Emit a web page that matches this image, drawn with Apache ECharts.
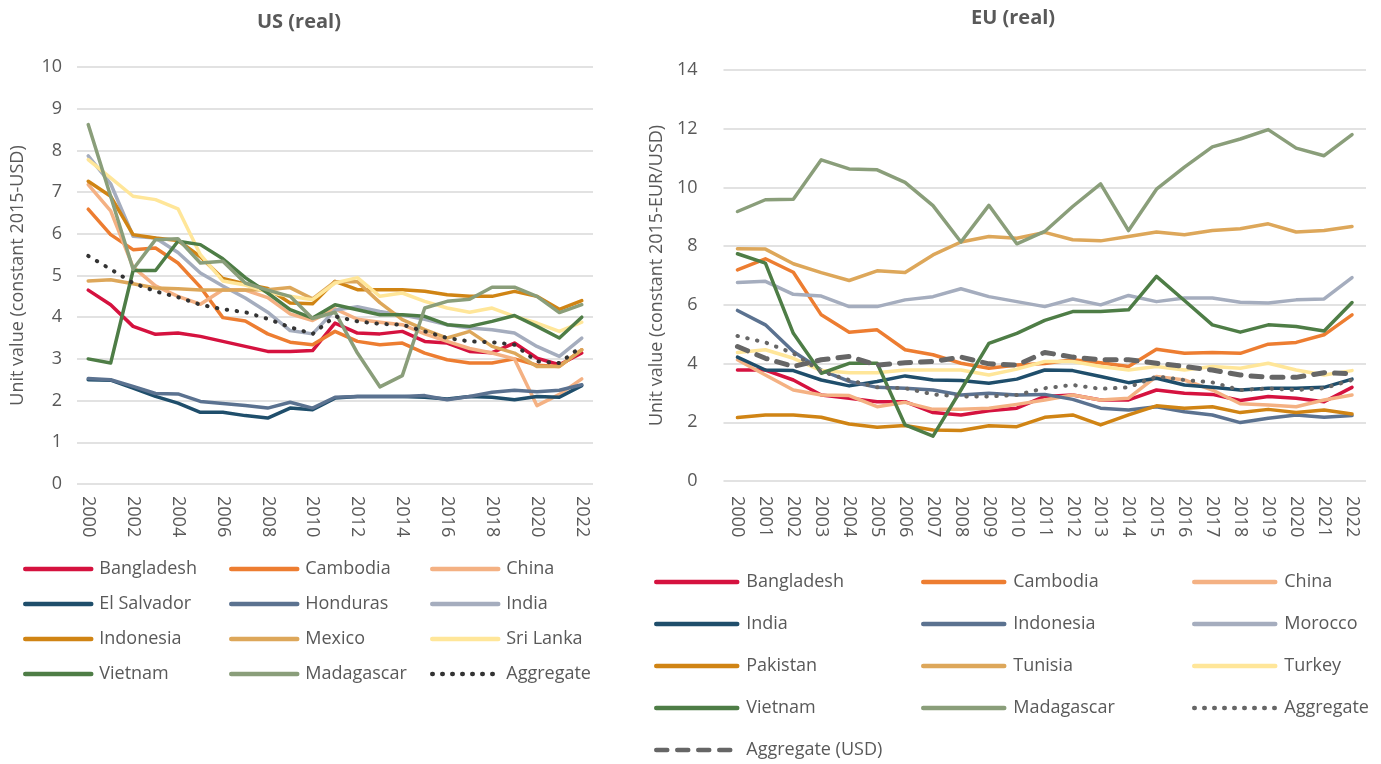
<!DOCTYPE html>
<html><head><meta charset="utf-8">
<script src="https://cdn.jsdelivr.net/npm/echarts@6/dist/echarts.min.js"></script>
<style>
html,body{margin:0;padding:0;background:#fff;}
#us{position:absolute;left:0;top:0;width:640px;height:764px;}
#eu{position:absolute;left:640px;top:0;width:741px;height:764px;}
</style></head><body>
<div id="us"></div><div id="eu"></div>
<script>
const years = ['2000','2001','2002','2003','2004','2005','2006','2007','2008','2009','2010','2011','2012','2013','2014','2015','2016','2017','2018','2019','2020','2021','2022'];
const usTicks = [0,1,2,3,4,5,6,7,8,9,10];
const euTicks = [0,2,4,6,8,10,12,14];

// US (real)
const usBangladesh = [4.65,4.3,3.78,3.59,3.62,3.54,3.42,3.3,3.18,3.18,3.2,3.86,3.62,3.6,3.66,3.42,3.38,3.18,3.15,3.38,3.02,2.86,3.14];
const usCambodia   = [6.59,5.98,5.62,5.66,5.3,4.72,3.99,3.91,3.6,3.4,3.34,3.66,3.42,3.34,3.38,3.14,2.98,2.9,2.9,3.0,2.85,2.82,3.22];
const usChina      = [7.18,6.55,5.2,4.75,4.5,4.31,4.66,4.65,4.47,4.08,3.92,4.2,3.95,3.88,3.82,3.6,3.42,3.25,3.14,3.0,1.88,2.15,2.52];
const usElSalvador = [2.5,2.49,2.3,2.1,1.94,1.72,1.72,1.64,1.58,1.82,1.78,2.06,2.1,2.1,2.1,2.08,2.04,2.1,2.08,2.02,2.1,2.08,2.36];
const usHonduras   = [2.53,2.5,2.34,2.17,2.16,1.98,1.93,1.88,1.82,1.96,1.82,2.08,2.1,2.1,2.1,2.12,2.02,2.1,2.2,2.25,2.21,2.25,2.38];
const usIndia      = [7.87,7.2,5.94,5.9,5.55,5.06,4.75,4.46,4.12,3.68,3.6,4.17,4.25,4.14,4.05,3.95,3.82,3.74,3.7,3.62,3.3,3.06,3.5];
const usIndonesia  = [7.26,6.9,5.98,5.9,5.84,5.45,4.93,4.8,4.69,4.34,4.32,4.86,4.66,4.66,4.66,4.62,4.54,4.5,4.5,4.62,4.5,4.19,4.4];
const usMexico     = [4.87,4.9,4.8,4.7,4.68,4.65,4.65,4.65,4.66,4.71,4.44,4.85,4.85,4.35,3.94,3.7,3.5,3.66,3.3,3.14,2.82,2.82,3.22];
const usSriLanka   = [7.78,7.34,6.9,6.82,6.6,5.5,4.87,4.77,4.6,4.5,4.42,4.82,4.95,4.5,4.58,4.38,4.22,4.12,4.22,4.02,3.86,3.66,3.88];
const usVietnam    = [3.0,2.9,5.12,5.12,5.82,5.74,5.4,4.95,4.58,4.18,3.98,4.3,4.18,4.06,4.06,4.02,3.82,3.78,3.9,4.04,3.78,3.5,4.0];
const usMadagascar = [8.62,6.9,5.15,5.86,5.88,5.3,5.34,4.82,4.65,4.5,3.97,4.12,3.14,2.33,2.6,4.22,4.38,4.43,4.72,4.72,4.5,4.11,4.3];
const usAggregate  = [5.47,5.15,4.82,4.62,4.48,4.3,4.19,4.12,3.96,3.76,3.6,4.02,3.9,3.84,3.82,3.66,3.5,3.42,3.4,3.34,2.94,2.9,3.3];

// EU (real)
const euBangladesh = [3.78,3.78,3.44,2.93,2.82,2.7,2.7,2.33,2.25,2.39,2.48,2.88,2.93,2.76,2.76,3.1,2.99,2.95,2.74,2.88,2.82,2.7,3.19];
const euCambodia   = [7.19,7.57,7.11,5.66,5.07,5.15,4.47,4.3,4.01,3.84,3.95,4.0,4.13,4.03,3.9,4.49,4.35,4.38,4.35,4.66,4.72,4.98,5.66];
const euChina      = [4.13,3.61,3.1,2.93,2.91,2.53,2.68,2.44,2.44,2.48,2.61,2.76,2.93,2.76,2.82,3.56,3.44,3.1,2.63,2.59,2.53,2.76,2.93];
const euIndia      = [4.22,3.78,3.76,3.44,3.24,3.39,3.58,3.44,3.42,3.33,3.47,3.78,3.76,3.56,3.35,3.5,3.27,3.19,3.1,3.16,3.16,3.19,3.47];
const euIndonesia  = [5.81,5.32,4.41,3.78,3.39,3.19,3.16,3.1,2.93,2.99,2.93,2.95,2.78,2.48,2.42,2.53,2.36,2.25,1.99,2.14,2.25,2.17,2.23];
const euMorocco    = [6.76,6.8,6.36,6.3,5.94,5.94,6.17,6.28,6.55,6.28,6.11,5.94,6.2,6.0,6.32,6.11,6.23,6.23,6.09,6.06,6.17,6.2,6.93];
const euPakistan   = [2.16,2.25,2.25,2.17,1.94,1.83,1.89,1.74,1.72,1.88,1.85,2.17,2.25,1.91,2.25,2.56,2.48,2.53,2.33,2.44,2.33,2.42,2.28];
const euTunisia    = [7.91,7.9,7.4,7.1,6.83,7.16,7.1,7.7,8.14,8.33,8.27,8.47,8.22,8.18,8.33,8.48,8.39,8.53,8.59,8.76,8.48,8.53,8.67];
const euTurkey     = [4.38,4.47,4.18,3.76,3.69,3.69,3.78,3.78,3.78,3.61,3.81,4.07,4.07,3.9,3.78,3.9,3.78,3.9,3.84,4.01,3.78,3.61,3.76];
const euVietnam    = [7.74,7.42,5.03,3.67,4.01,4.01,1.91,1.53,3.1,4.69,5.03,5.47,5.77,5.77,5.83,6.97,6.15,5.32,5.07,5.32,5.26,5.11,6.08];
const euMadagascar = [9.18,9.58,9.6,10.94,10.63,10.6,10.17,9.38,8.14,9.39,8.08,8.5,9.35,10.12,8.53,9.94,10.69,11.38,11.65,11.97,11.34,11.08,11.8];
const euAggregate  = [4.94,4.72,4.35,3.73,3.44,3.19,3.16,2.95,2.88,2.88,2.93,3.16,3.27,3.14,3.19,3.56,3.44,3.36,3.1,3.15,3.1,3.16,3.44];
const euAggregateUSD = [4.58,4.18,3.9,4.13,4.24,3.95,4.03,4.07,4.22,3.99,3.95,4.38,4.22,4.13,4.13,4.01,3.9,3.78,3.61,3.53,3.53,3.69,3.65];

const FONT = '"Open Sans", sans-serif';
const GREY = '#595959';
const C = {
  red:'#D5123F', orange:'#ED7D31', salmon:'#F4B183', navy:'#1F4E6B', slate:'#5B7290',
  lightblue:'#A5ADBE', dkorange:'#D08414', tan:'#DDA75A', yellow:'#FFE699',
  green:'#4E7D46', sage:'#8A9E7A'
};

function line(name, data, color, extra) {
  const ls = Object.assign({width:3.5, color:color, cap:'round', join:'round'}, extra||{});
  return {name, type:'line', data, symbol:'none', showSymbol:false, smooth:false,
    itemStyle:{color:color}, lineStyle:ls, emphasis:{disabled:true}, animation:false};
}

function legendCol(names, left, top, gap, iw, tpad) {
  return {show:true, orient:'vertical', left, top, padding:0, data:names, itemWidth:iw, itemHeight:20, itemGap:gap,
    itemStyle:{opacity:0},
    lineStyle:{width:4.5, cap:'round'},
    textStyle:{fontFamily:FONT, fontSize:18, color:GREY, lineHeight:20, padding:[0,0,0,tpad]},
    selectedMode:false};
}

function makeOpt(cfg) {
  return {
    animation:false,
    title:{text:cfg.title, left:cfg.titleLeft, top:cfg.titleTop, textStyle:{fontFamily:FONT, fontSize:20, fontWeight:'bold', color:GREY}},
    grid:cfg.grid,
    legend:cfg.legends,
    xAxis:{type:'category', data:years, boundaryGap:true,
      axisLine:{show:false}, axisTick:{show:false},
      axisLabel:{rotate:-90, interval:cfg.labelInterval, margin:cfg.xMargin, fontFamily:FONT, fontSize:18, color:GREY}},
    yAxis:{type:'value', min:0, max:cfg.yMax, interval:cfg.yInterval,
      name:cfg.yName, nameLocation:'middle', nameGap:cfg.nameGap, nameRotate:90,
      nameTextStyle:{fontFamily:FONT, fontSize:18, color:GREY},
      axisLine:{show:false}, axisTick:{show:false},
      axisLabel:{fontFamily:FONT, fontSize:18, color:GREY, margin:cfg.yMargin},
      splitLine:{lineStyle:{color:'#D9D9D9', width:1.5}}},
    series:cfg.series
  };
}

const usChart = echarts.init(document.getElementById('us'), null, {renderer:'canvas'});
usChart.setOption(makeOpt({
  title:'US (real)', titleLeft:252, titleTop:7,
  grid:{left:77, right:47, top:67, bottom:280, containLabel:false},
  labelInterval:1, xMargin:12, yMargin:15, yMax:10, yInterval:1,
  yName:'Unit value (constant 2015-USD)', nameGap:50,
  legends:[
    legendCol(['Bangladesh','El Salvador','Indonesia','Vietnam'], 23, 559, 15, 66, 3),
    legendCol(['Cambodia','Honduras','Mexico','Madagascar'], 229, 559, 15, 66, 3),
    legendCol(['China','India','Sri Lanka','Aggregate'], 430, 559, 15, 66, 3)
  ],
  series:[
    line('Bangladesh', usBangladesh, C.red),
    line('Cambodia', usCambodia, C.orange),
    line('China', usChina, C.salmon),
    line('El Salvador', usElSalvador, C.navy),
    line('Honduras', usHonduras, C.slate),
    line('India', usIndia, C.lightblue),
    line('Indonesia', usIndonesia, C.dkorange),
    line('Mexico', usMexico, C.tan),
    line('Sri Lanka', usSriLanka, C.yellow),
    line('Vietnam', usVietnam, C.green),
    line('Madagascar', usMadagascar, C.sage),
    line('Aggregate', usAggregate, '#333333', {width:4, type:[0.5,9.5], cap:'round'})
  ]
}));

const euChart = echarts.init(document.getElementById('eu'), null, {renderer:'canvas'});
euChart.setOption(makeOpt({
  title:'EU (real)', titleLeft:326, titleTop:3,
  grid:{left:82, right:15, top:70, bottom:283, containLabel:false},
  labelInterval:0, xMargin:15, yMargin:26, yMax:14, yInterval:2,
  yName:'Unit value (constant 2015-EUR/USD)', nameGap:57,
  legends:[
    legendCol(['Bangladesh','India','Pakistan','Vietnam','Aggregate (USD)'], 14, 572, 22, 81, 4),
    legendCol(['Cambodia','Indonesia','Tunisia','Madagascar'], 281, 572, 22, 81, 4),
    legendCol(['China','Morocco','Turkey','Aggregate'], 552, 572, 22, 81, 4)
  ],
  series:[
    line('Bangladesh', euBangladesh, C.red),
    line('Cambodia', euCambodia, C.orange),
    line('China', euChina, C.salmon),
    line('India', euIndia, C.navy),
    line('Indonesia', euIndonesia, C.slate),
    line('Morocco', euMorocco, C.lightblue),
    line('Pakistan', euPakistan, C.dkorange),
    line('Tunisia', euTunisia, C.tan),
    line('Turkey', euTurkey, C.yellow),
    line('Vietnam', euVietnam, C.green),
    line('Madagascar', euMadagascar, C.sage),
    line('Aggregate', euAggregate, '#666666', {width:4, type:[0.5,9.5], cap:'round'}),
    line('Aggregate (USD)', euAggregateUSD, '#666666', {width:5, type:[11,10], cap:'round'})
  ]
}));
</script>
</body></html>
